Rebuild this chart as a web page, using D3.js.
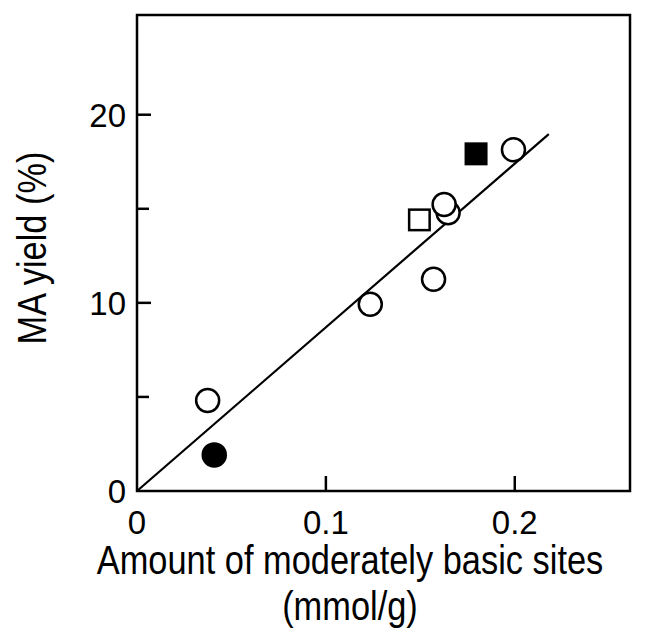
<!DOCTYPE html>
<html>
<head>
<meta charset="utf-8">
<script src="https://cdn.jsdelivr.net/npm/d3@7"></script>
<style>
  html, body { margin: 0; padding: 0; background: #fff; }
  svg { display: block; }
  text { font-family: "Liberation Sans", Arial, sans-serif; fill: #000; }
</style>
</head>
<body>
<svg id="chart" width="655" height="633"></svg>
<script>
// ---- data ----
const openCircles = [
  [0.0374, 4.81],
  [0.1235, 9.93],
  [0.157, 11.26],
  [0.1647, 14.79],
  [0.1626, 15.23],
  [0.1993, 18.14]
];
const filledCircles = [[0.0409, 1.92]];
const openSquares = [[0.1495, 14.41]];
const filledSquares = [[0.1795, 17.92]];
const fitLine = [[0, 0], [0.218, 18.97]];
const xTicks = [0, 0.1, 0.2];
const xTickLabels = ["0", "0.1", "0.2"];
const yMajorTicks = [0, 10, 20];
const yMinorTicks = [5, 15];
const yTickLabels = ["0", "10", "20"];
const xTitle = ["Amount of moderately basic sites", "(mmol/g)"];
const yTitle = "MA yield (%)";

// ---- scales ----
const svg = d3.select("#chart");
const x = d3.scaleLinear().domain([0, 0.261]).range([137, 630]);
const y = d3.scaleLinear().domain([0, 25.3]).range([491, 15]);

// fit line (below markers)
svg.append("path")
  .datum(fitLine)
  .attr("d", d3.line().x(d => x(d[0])).y(d => y(d[1])))
  .attr("fill", "none").attr("stroke", "#000").attr("stroke-width", 2.2);

// frame
svg.append("rect")
  .attr("x", x(0)).attr("y", y(25.3))
  .attr("width", x(0.261) - x(0)).attr("height", y(0) - y(25.3))
  .attr("fill", "none").attr("stroke", "#000").attr("stroke-width", 2.5);

// ticks (inward)
svg.selectAll(".xt").data(xTicks.slice(1)).enter().append("line")
  .attr("x1", d => x(d)).attr("x2", d => x(d))
  .attr("y1", y(0)).attr("y2", y(0) - 15)
  .attr("stroke", "#000").attr("stroke-width", 2.5);
svg.selectAll(".ytM").data(yMajorTicks.slice(1)).enter().append("line")
  .attr("x1", x(0)).attr("x2", x(0) + 14)
  .attr("y1", d => y(d)).attr("y2", d => y(d))
  .attr("stroke", "#000").attr("stroke-width", 2.5);
svg.selectAll(".ytm").data(yMinorTicks).enter().append("line")
  .attr("x1", x(0)).attr("x2", x(0) + 12)
  .attr("y1", d => y(d)).attr("y2", d => y(d))
  .attr("stroke", "#000").attr("stroke-width", 2.5);

// tick labels
svg.selectAll(".xl").data(xTicks).enter().append("text")
  .attr("x", d => x(d)).attr("y", 534)
  .attr("text-anchor", "middle").attr("font-size", 33)
  .text((d, i) => xTickLabels[i]);
svg.selectAll(".yl").data(yMajorTicks).enter().append("text")
  .attr("x", 126).attr("y", d => y(d) + 12)
  .attr("text-anchor", "end").attr("font-size", 33)
  .text((d, i) => yTickLabels[i]);

// axis titles
svg.append("text")
  .attr("transform", "translate(350,574) scale(0.86,1)")
  .attr("text-anchor", "middle").attr("font-size", 40)
  .text(xTitle[0]);
svg.append("text")
  .attr("transform", "translate(350,620) scale(0.86,1)")
  .attr("text-anchor", "middle").attr("font-size", 40)
  .text(xTitle[1]);
svg.append("text")
  .attr("transform", "translate(46,248) rotate(-90) scale(0.86,1)")
  .attr("text-anchor", "middle").attr("font-size", 40)
  .text(yTitle);

// markers
const r = 11.5;
svg.selectAll(".oc").data(openCircles).enter().append("circle")
  .attr("cx", d => x(d[0])).attr("cy", d => y(d[1])).attr("r", r)
  .attr("fill", "#fff").attr("stroke", "#000").attr("stroke-width", 2.5);
svg.selectAll(".fc").data(filledCircles).enter().append("circle")
  .attr("cx", d => x(d[0])).attr("cy", d => y(d[1])).attr("r", r)
  .attr("fill", "#000").attr("stroke", "#000").attr("stroke-width", 2.5);
const s = 20.5;
svg.selectAll(".os").data(openSquares).enter().append("rect")
  .attr("x", d => x(d[0]) - s / 2).attr("y", d => y(d[1]) - s / 2)
  .attr("width", s).attr("height", s)
  .attr("fill", "#fff").attr("stroke", "#000").attr("stroke-width", 2.5);
svg.selectAll(".fs").data(filledSquares).enter().append("rect")
  .attr("x", d => x(d[0]) - s / 2).attr("y", d => y(d[1]) - s / 2)
  .attr("width", s).attr("height", s)
  .attr("fill", "#000").attr("stroke", "#000").attr("stroke-width", 2.5);
</script>
</body>
</html>
